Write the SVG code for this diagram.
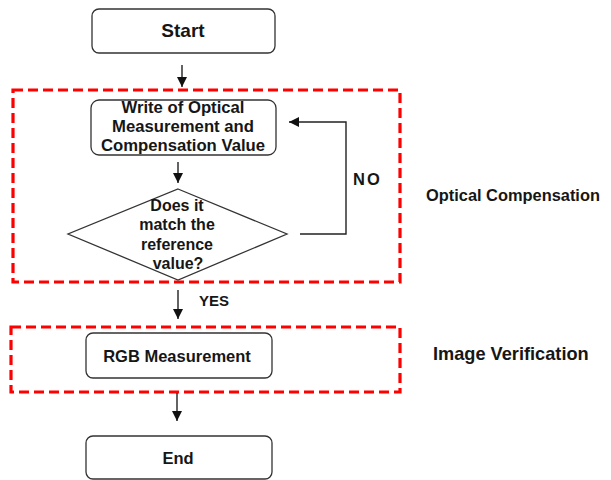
<svg xmlns="http://www.w3.org/2000/svg" width="611" height="480" viewBox="0 0 611 480">
  <style>
    .box { fill: #fff; stroke: #333; stroke-width: 1.3; }
    .group { fill: none; stroke: #ff0000; stroke-width: 3.2; stroke-dasharray: 10 5; }
    .line { fill: none; stroke: #222; stroke-width: 1.4; }
    .t { font-family: "Liberation Sans", Arial, sans-serif; font-weight: bold; fill: #161616; text-anchor: middle; dominant-baseline: central; }
    .lbl { font-family: "Liberation Sans", Arial, sans-serif; font-weight: bold; fill: #161616; dominant-baseline: central; }
  </style>
  <defs>
    <marker id="arrow" viewBox="0 0 10 10" refX="10" refY="5" markerWidth="10" markerHeight="10" markerUnits="userSpaceOnUse" orient="auto">
      <path d="M0,0 L10,5 L0,10 z" fill="#111"/>
    </marker>
  </defs>
  <rect width="611" height="480" fill="#fff"/>

  <!-- dashed grouping frames -->
  <g id="group-optical">
    <rect class="group" x="13" y="90" width="387" height="192"/>
    <text class="lbl" x="426" y="195" font-size="16.4">Optical Compensation</text>
  </g>
  <g id="group-image">
    <rect class="group" x="11" y="327" width="389" height="65"/>
    <text class="lbl" x="433" y="354" font-size="18.2">Image Verification</text>
  </g>

  <!-- connectors -->
  <g id="connectors">
    <line class="line" x1="182" y1="65" x2="182" y2="87" marker-end="url(#arrow)"/>
    <line class="line" x1="178" y1="162" x2="178" y2="183" marker-end="url(#arrow)"/>
    <polyline class="line" points="300,234 346,234 346,122 289,122" marker-end="url(#arrow)"/>
    <text class="lbl" x="353" y="179" font-size="16.5" letter-spacing="2">NO</text>
    <line class="line" x1="178" y1="290" x2="178" y2="319" marker-end="url(#arrow)"/>
    <text class="lbl" x="199" y="300" font-size="15">YES</text>
    <line class="line" x1="177" y1="393" x2="177" y2="421" marker-end="url(#arrow)"/>
  </g>

  <g id="start">
    <rect class="box" x="92" y="9" width="183" height="44" rx="7"/>
    <text class="t" x="183" y="30.5" font-size="19">Start</text>
  </g>

  <g id="write">
    <rect class="box" x="91" y="100" width="185" height="55" rx="8"/>
    <text class="t" x="183" y="107" font-size="16.7">Write of Optical</text>
    <text class="t" x="183" y="126" font-size="16.7">Measurement and</text>
    <text class="t" x="183" y="145.5" font-size="16.7">Compensation Value</text>
  </g>

  <g id="decision">
    <polygon class="box" points="178,189 287,234 178,280 68,234"/>
    <text class="t" x="177" y="205" font-size="16">Does it</text>
    <text class="t" x="177" y="224" font-size="16">match the</text>
    <text class="t" x="177" y="244" font-size="16">reference</text>
    <text class="t" x="178" y="263" font-size="16">value?</text>
  </g>

  <g id="rgb">
    <rect class="box" x="86" y="333" width="186" height="45" rx="7"/>
    <text class="t" x="177" y="356" font-size="16.5">RGB Measurement</text>
  </g>

  <g id="end">
    <rect class="box" x="86" y="436" width="186" height="43" rx="7"/>
    <text class="t" x="178" y="458" font-size="16.5">End</text>
  </g>
</svg>
